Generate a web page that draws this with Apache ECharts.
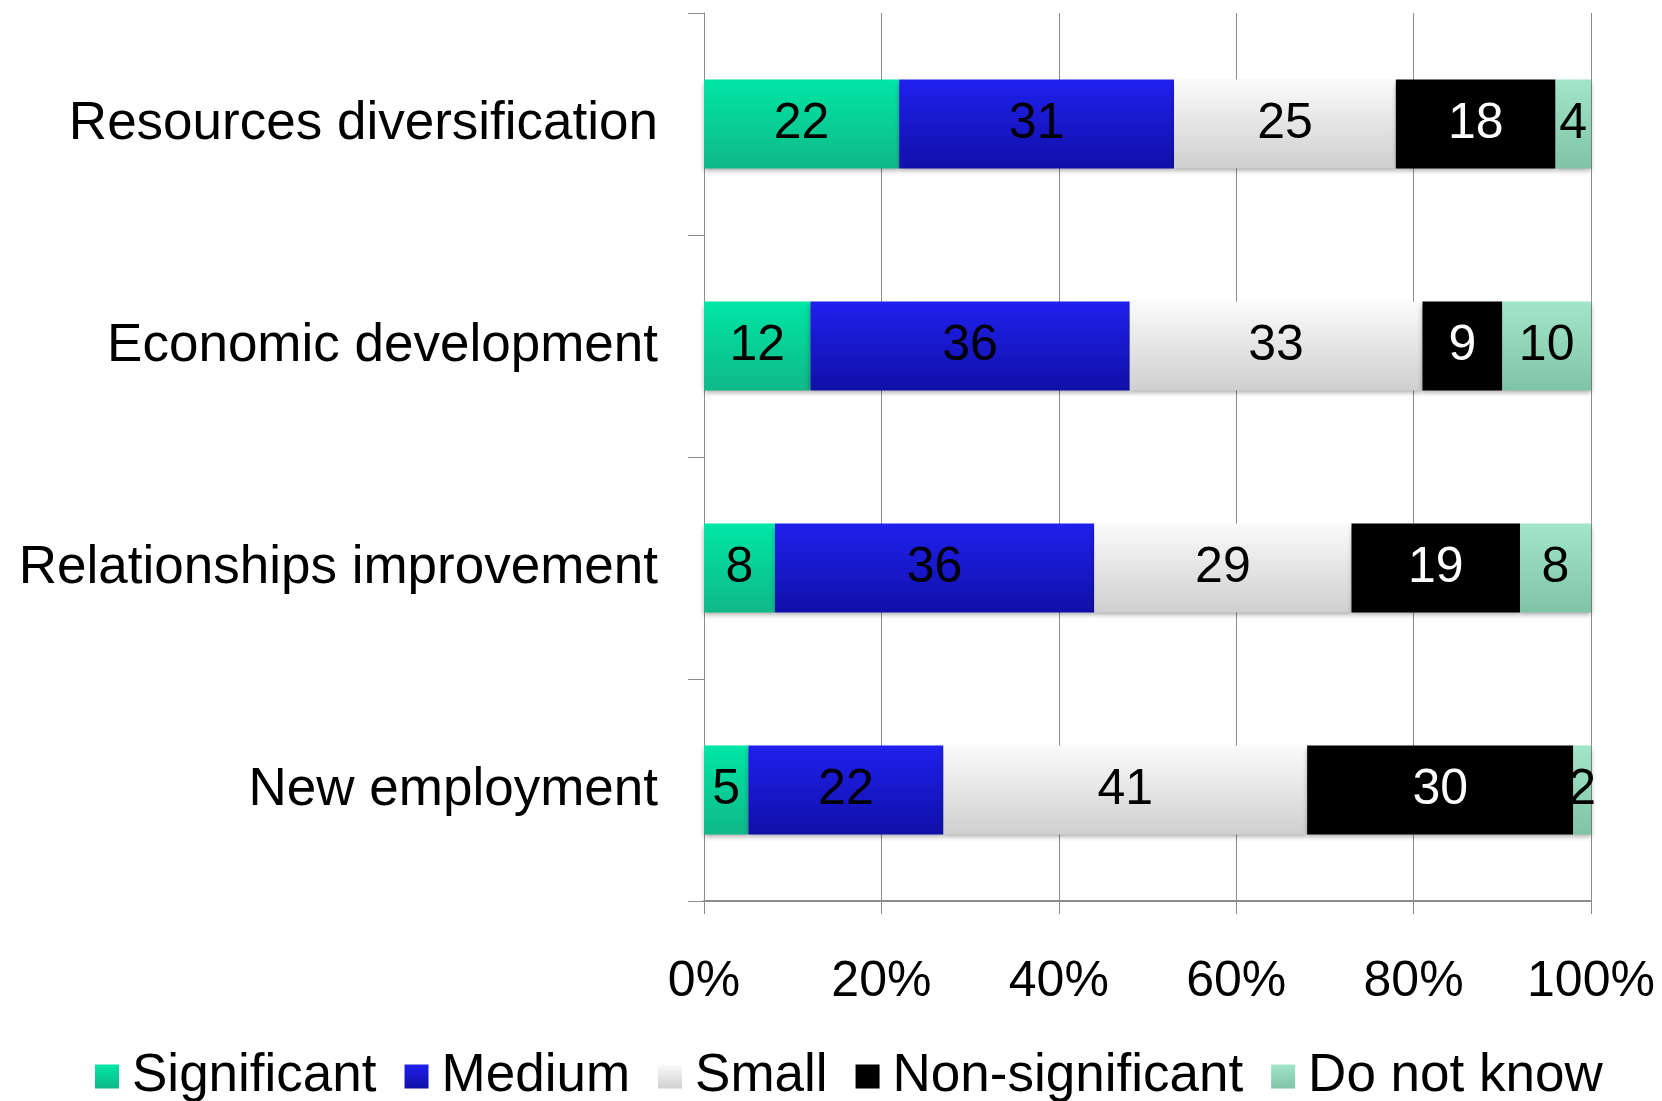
<!DOCTYPE html>
<html>
<head>
<meta charset="utf-8">
<script src="https://cdn.jsdelivr.net/npm/echarts@6/dist/echarts.min.js"></script>
<style>
  html, body { margin: 0; padding: 0; background: #fff; }
  #chart { width: 1662px; height: 1101px; }
</style>
</head>
<body>
<div id="chart"></div>
<script>
// categories, top to bottom
const categories = ["Resources diversification", "Economic development", "Relationships improvement", "New employment"];
const seriesNames = ["Significant", "Medium", "Small", "Non-significant", "Do not know"];

// values in % per category
const significant = [22, 12, 8, 5];
const medium = [31, 36, 36, 22];
const small = [25, 33, 29, 41];
const nonSignificant = [18, 9, 19, 30];
const doNotKnow = [4, 10, 8, 2];

const xTicks = [0, 20, 40, 60, 80, 100];

const fills = [
  ["#00e6a6", "#10b888"],
  ["#2020ee", "#1010a8"],
  ["#fbfbfb", "#cfcfcf"],
  ["#000000", "#000000"],
  ["#a2e6ca", "#7fc4a6"]
];
const labelColors = ["#000", "#000", "#000", "#fff", "#000"];
const values = [significant, medium, small, nonSignificant, doNotKnow];

const grad = c => ({
  type: "linear", x: 0, y: 0, x2: 0, y2: 1,
  colorStops: [{ offset: 0, color: c[0] }, { offset: 1, color: c[1] }]
});

const font = "'Liberation Sans', Arial, sans-serif";

const chart = echarts.init(document.getElementById("chart"));
chart.setOption({
  backgroundColor: "#fff",
  animation: false,
  grid: { left: 704, right: 71, top: 13, bottom: 200 },
  legend: {
    data: seriesNames,
    left: 90,
    top: 1045,
    icon: "rect",
    itemWidth: 24,
    itemHeight: 24,
    itemGap: 28,
    textStyle: { fontSize: 53, color: "#000", fontFamily: font, padding: [0, 0, 0, 8] }
  },
  xAxis: {
    type: "value",
    min: 0,
    max: 100,
    interval: 20,
    axisLine: { show: true, lineStyle: { color: "#8c8c8c", width: 2 } },
    axisTick: { show: true, length: 13, lineStyle: { color: "#8c8c8c", width: 1 } },
    splitLine: { show: true, lineStyle: { color: "#8c8c8c", width: 1 } },
    axisLabel: {
      formatter: v => (xTicks.includes(v) ? v + "%" : ""),
      fontSize: 50, color: "#000", fontFamily: font, margin: 56
    }
  },
  yAxis: {
    type: "category",
    data: categories,
    inverse: true,
    axisLine: { show: true, lineStyle: { color: "#8c8c8c", width: 1 } },
    axisTick: { show: true, length: 16, lineStyle: { color: "#8c8c8c" } },
    axisLabel: { fontSize: 53, color: "#000", fontFamily: font, margin: 46 }
  },
  series: seriesNames.map((name, i) => ({
    name: name,
    type: "bar",
    stack: "all",
    barWidth: "40%",
    data: values[i],
    itemStyle: {
      color: grad(fills[i]),
      shadowColor: "rgba(0,0,0,0.35)",
      shadowBlur: 5,
      shadowOffsetY: 3
    },
    label: {
      show: true,
      position: "inside",
      fontSize: 50,
      color: labelColors[i],
      fontFamily: font
    }
  }))
});
</script>
</body>
</html>
